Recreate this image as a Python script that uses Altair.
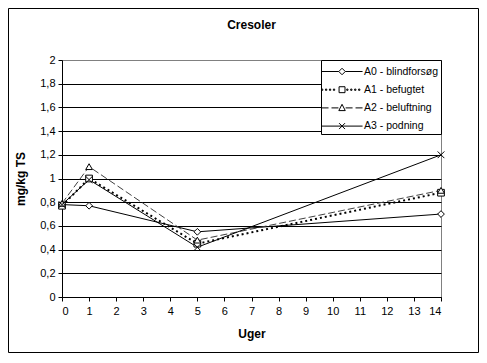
import altair as alt
import pandas as pd

# ---- data ----
weeks = [0, 1, 5, 14]
series = ["A0 - blindforsøg", "A1 - befugtet", "A2 - beluftning", "A3 - podning"]
a0 = [0.78, 0.77, 0.55, 0.70]
a1 = [0.77, 1.00, 0.45, 0.88]
a2 = [0.79, 1.10, 0.48, 0.90]
a3 = [0.78, 0.99, 0.42, 1.20]
x_ticks = list(range(0, 15))
y_ticks = [0, 0.2, 0.4, 0.6, 0.8, 1.0, 1.2, 1.4, 1.6, 1.8, 2.0]

rows = []
for name, vals in zip(series, [a0, a1, a2, a3]):
    for w, v in zip(weeks, vals):
        rows.append({"series": name, "uger": w, "value": v})
df = pd.DataFrame(rows)

FONT = "Liberation Sans"

# ---- styles ----
line_styles = [
    dict(color="black", strokeWidth=1),
    dict(color="black", strokeWidth=2, strokeDash=[2, 3]),
    dict(color="#404040", strokeWidth=1, strokeDash=[7, 3]),
    dict(color="black", strokeWidth=1),
]
marker_shapes = ["diamond", "square", "triangle-up", "M-1,-1L1,1M-1,1L1,-1"]


def dots(xs):
    return "".join(f"M{x:.2f},-0.07h0.14v0.14h-0.14Z" for x in xs)


# legend swatches: line segment with marker in the middle
legend_paths = [
    "M-1.22,0H0.70M1.42,0H3.34M1.06,-0.36L1.42,0L1.06,0.36L0.70,0Z",
    dots([-1.22, -0.78, -0.34, 0.10]) + "M0.73,-0.33H1.39V0.33H0.73Z" + dots([1.58, 2.02, 2.46, 2.90]),
    "M-1.22,0H-0.44M-0.11,0H0.66M1.06,-0.4L1.42,0.3H0.70ZM1.46,0H2.23M2.56,0H3.34",
    "M-1.22,0H3.34M0.73,-0.33L1.39,0.33M0.73,0.33L1.39,-0.33",
]

X = alt.X("uger:Q", scale=alt.Scale(domain=[0, 14], nice=False),
          axis=alt.Axis(values=x_ticks, title="Uger", grid=False, labelAngle=0,
                        labelPadding=4, titlePadding=12))
Y = alt.Y("value:Q", scale=alt.Scale(domain=[0, 2], nice=False),
          axis=alt.Axis(values=y_ticks, title="mg/kg TS", grid=True,
                        gridColor={"condition": {"test": "datum.value >= 2", "value": "#808080"}, "value": "black"},
                        labelExpr="replace(format(datum.value, '.1~f'), '.', ',')",
                        labelPadding=3, titlePadding=12))

layers = []
for name, st in zip(series, line_styles):
    layers.append(
        alt.Chart(df).transform_filter(alt.datum.series == name).mark_line(**st).encode(x=X, y=Y)
    )
for name, shp in zip(series, marker_shapes):
    layers.append(
        alt.Chart(df).transform_filter(alt.datum.series == name)
        .mark_point(shape=shp, size=45, filled=False, fill="white", stroke="black",
                    strokeWidth=1, opacity=1)
        .encode(x=X, y=Y)
    )

# invisible point layer that only carries the legend
legend_layer = (
    alt.Chart(df)
    .mark_point(filled=False, color="black", strokeWidth=1, opacity=0)
    .encode(
        x=X, y=Y,
        shape=alt.Shape("series:N", scale=alt.Scale(domain=series, range=legend_paths),
                        legend=alt.Legend(title=None, orient="top-right", offset=0,
                                          strokeColor="black", fillColor="white",
                                          padding=2, rowPadding=3.2,
                                          labelFont=FONT, labelFontSize=10.5, labelColor="black",
                                          symbolSize=324, symbolStrokeWidth=1,
                                          symbolOpacity=1,
                                          symbolStrokeColor="black", symbolFillColor="white",
                                          labelOffset=22)),
    )
)
layers.append(legend_layer)

frame = alt.Chart(pd.DataFrame({"k": [0]})).mark_rect(
    filled=False, stroke="black", strokeWidth=1
).encode(x=alt.value(-53.5), x2=alt.value(416.5), y=alt.value(-51.5), y2=alt.value(292.5))
layers.append(frame)

chart = (
    alt.layer(*layers)
    .properties(
        width=379, height=237,
        autosize=alt.AutoSizeParams(type="none"),
        padding={"left": 54, "top": 52, "right": 38, "bottom": 56},
        title=alt.Title("Cresoler", font=FONT, fontSize=12, fontWeight="bold",
                        anchor="middle", frame="group", offset=-24, color="black"),
    )
    .configure_view(stroke="#808080", strokeWidth=1)
    .configure_axis(labelFont=FONT, labelFontSize=11, labelColor="black",
                    titleFont=FONT, titleFontSize=12, titleFontWeight="bold", titleColor="black",
                    domainColor="black", tickColor="black", tickSize=4, gridOpacity=1)
)

chart.save("out.html", embed_options={"renderer": "svg", "actions": False})
